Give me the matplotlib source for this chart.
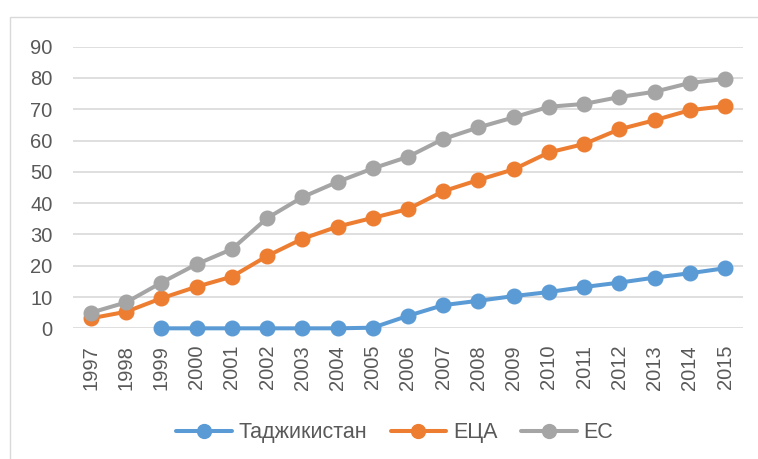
import matplotlib.pyplot as plt
import matplotlib.patches as patches

years = [str(y) for y in range(1997, 2016)]

# Таджикистан starts in 1999
tj_years = years[2:]
tj = [0, 0, 0, 0, 0, 0, 0.2, 4.0, 7.4, 8.8, 10.3, 11.6, 13.2, 14.6, 16.2, 17.6, 19.2]
eca = [3.2, 5.3, 9.6, 13.3, 16.5, 23.1, 28.6, 32.5, 35.3, 38.1, 43.8, 47.4,
       50.8, 56.2, 58.9, 63.6, 66.5, 69.7, 71.0]
eu = [5.0, 8.3, 14.6, 20.5, 25.3, 35.2, 41.9, 46.8, 51.1, 54.8, 60.5, 64.2,
      67.4, 70.8, 71.7, 73.9, 75.6, 78.4, 79.7]

names = ["Таджикистан", "ЕЦА", "ЕС"]
colors = ["#5B9BD5", "#ED7D31", "#A5A5A5"]
yticks = list(range(0, 100, 10))

plt.rcParams["font.family"] = ["Liberation Sans", "DejaVu Sans"]
text_color = "#595959"

fig = plt.figure(figsize=(7.58, 4.59), dpi=100)
ax = fig.add_axes([0.0968, 0.2847, 0.8829, 0.6136])

# chart border (only the top and left edges are visible in the crop)
fig.patches.append(patches.Rectangle((10 / 758, -0.1), 2, 1 - 17 / 459 + 0.1,
                                     transform=fig.transFigure, fill=False,
                                     edgecolor="#D9D9D9", linewidth=1))

idx = {y: i for i, y in enumerate(years)}
series = [([idx[y] for y in tj_years], tj), (list(range(len(years))), eca),
          (list(range(len(years))), eu)]
for (xs, ys), name, c in zip(series, names, colors):
    ax.plot(xs, ys, color=c, lw=2.9, marker="o", markersize=10.5,
            label=name, clip_on=False, zorder=3, solid_capstyle="round")

ax.set_xlim(-0.5, len(years) - 0.5)
ax.set_ylim(0, 90)
ax.set_yticks(yticks)
ax.set_xticks(range(len(years)))
ax.set_xticklabels(years, rotation=90)
ax.grid(axis="y", color="#D9D9D9", linewidth=1.2)
ax.set_axisbelow(True)
for s in ax.spines.values():
    s.set_visible(False)
ax.tick_params(axis="both", length=0, colors=text_color, labelsize=14.5)
ax.tick_params(axis="y", pad=15)
ax.tick_params(axis="x", pad=12)

leg = fig.legend(loc="center", bbox_to_anchor=(0.5205, 0.057), ncol=3,
                 frameon=False, fontsize=15.5, handlelength=2.6,
                 handletextpad=0.3, columnspacing=1.1, markerscale=0.95)
for t in leg.get_texts():
    t.set_color(text_color)

fig.savefig("out.png", dpi=100)
